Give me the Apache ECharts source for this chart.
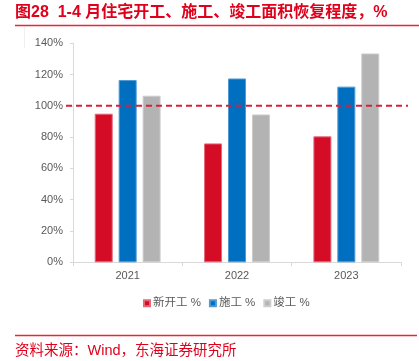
<!DOCTYPE html>
<html>
<head>
<meta charset="utf-8">
<script src="https://cdn.jsdelivr.net/npm/echarts@6/dist/echarts.min.js"></script>
<style>
html,body{margin:0;padding:0;background:#fff;}
#c{width:419px;height:361px;}
</style>
</head>
<body>
<div id="c"></div>
<script>
var categories = ['2021', '2022', '2023'];
var newStarts = [95, 76, 80.5];
var underConstruction = [116.5, 117.5, 112.3];
var completions = [106.5, 94.5, 133.5];
var seriesNames = ['新开工 %', '施工 %', '竣工 %'];
var yTicks = [0, 20, 40, 60, 80, 100, 120, 140];
var refLine = 100;
var titleText = '图28  1-4 月住宅开工、施工、竣工面积恢复程度，%';
var sourceText = '资料来源：Wind，东海证券研究所';

var chart = echarts.init(document.getElementById('c'), null, {renderer: 'canvas'});
var font = '"Liberation Sans", "Noto Sans CJK SC", sans-serif';
var colors = ['#D50C26', '#006FC0', '#B3B3B3'];
var borders = ['#E4687A', '#4E9AD6', '#CDCDCD'];

function barSeries(i, data) {
  return {
    name: seriesNames[i],
    type: 'bar',
    data: data,
    barWidth: 18,
    barGap: '33%',
    itemStyle: {color: colors[i], borderColor: borders[i], borderWidth: 1},
    emphasis: {disabled: true}
  };
}

chart.setOption({
  animation: false,
  textStyle: {fontFamily: font},
  grid: {left: 73, right: 18, top: 43.3, bottom: 98.7, containLabel: false},
  legend: {
    bottom: 47,
    left: 138,
    itemWidth: 6,
    itemHeight: 6,
    itemGap: 8,
    icon: 'rect',
    textStyle: {color: '#595959', fontSize: 11.5, fontFamily: font, padding: [0, 0, 0, -2]},
    data: seriesNames
  },
  xAxis: {
    type: 'category',
    data: categories,
    axisLine: {lineStyle: {color: '#D9D9D9', width: 1}},
    axisTick: {show: true, length: 4, lineStyle: {color: '#D9D9D9'}},
    axisLabel: {color: '#595959', fontSize: 11, margin: 8, fontFamily: font}
  },
  yAxis: {
    type: 'value',
    min: yTicks[0],
    max: yTicks[yTicks.length - 1],
    interval: 20,
    axisLine: {show: true, lineStyle: {color: '#D9D9D9', width: 1}},
    axisTick: {show: true, length: 3, lineStyle: {color: '#D9D9D9'}},
    splitLine: {show: false},
    axisLabel: {color: '#595959', fontSize: 11, margin: 10, fontFamily: font,
      formatter: function (v) { return v + '%'; }}
  },
  series: [
    barSeries(0, newStarts),
    barSeries(1, underConstruction),
    barSeries(2, completions)
  ]
});

var yRef = chart.convertToPixel({yAxisIndex: 0}, refLine);
chart.setOption({
  graphic: [
    {type: 'text', left: 15, top: 5,
      style: {text: titleText, fill: '#E0001B', font: 'bold 16px "Liberation Sans", "Noto Sans CJK SC", sans-serif'}},
    {type: 'line', shape: {x1: 15, y1: 25.5, x2: 419, y2: 25.5},
      style: {stroke: '#E8263A', lineWidth: 1.5}},
    {type: 'line', shape: {x1: 24.5, y1: 27, x2: 24.5, y2: 48},
      style: {stroke: '#F0F0F0', lineWidth: 1}},
    {type: 'line', shape: {x1: 66, y1: yRef, x2: 408, y2: yRef},
      style: {stroke: '#D6203A', lineWidth: 2, lineDash: [6, 4]}, z: 100},
    {type: 'line', shape: {x1: 15, y1: 335.5, x2: 417, y2: 335.5},
      style: {stroke: '#E8263A', lineWidth: 1.5}},
    {type: 'text', left: 15, top: 343.5,
      style: {text: sourceText, fill: '#E0001B', font: '14.5px "Liberation Sans", "Noto Sans CJK SC", sans-serif'}}
  ]
});
</script>
</body>
</html>
